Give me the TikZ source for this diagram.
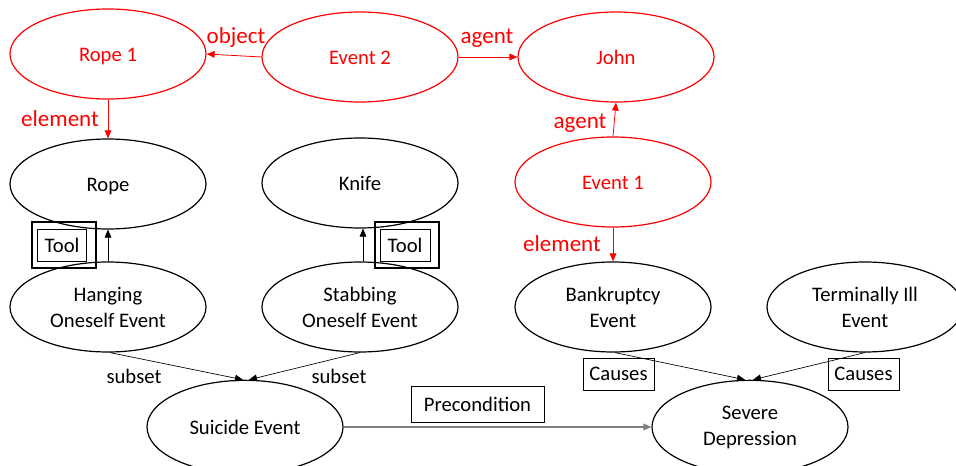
\documentclass[tikz,border=0pt]{standalone}
\usepackage{fontspec}
\setmainfont{Carlito}
\usetikzlibrary{shapes.geometric,arrows.meta}
\tikzset{
  concept/.style={ellipse, draw=black, line width=0.9pt, minimum width=147pt,
    minimum height=67.5pt, inner sep=0pt, align=center,
    font=\fontsize{15.5}{19.5}\selectfont},
  oneline/.style={text height=11.5pt, text depth=0pt},
  redconcept/.style={concept, oneline, draw=red, text=red},
  rel/.style={text=red, font=\fontsize{17.25}{20}\selectfont, anchor=base},
  plain/.style={font=\fontsize{15.5}{19.5}\selectfont, anchor=base},
  redarrow/.style={draw=red, line width=0.6pt, -{Triangle[length=6pt,width=5pt]}},
  blackarrow/.style={draw=black, line width=0.5pt, -{Triangle[length=6pt,width=5pt]}},
  grayarrow/.style={draw=gray, line width=1pt, -{Triangle[length=6pt,width=5pt]}},
  tagbox/.style={draw=black, line width=0.6pt, inner sep=0pt,
    font=\fontsize{15.5}{19.5}\selectfont},
  framebox/.style={draw=black, line width=0.9pt, inner sep=0pt}
}
\begin{document}
\begin{tikzpicture}[x=0.75pt, y=-0.75pt]
\useasboundingbox (0,0) rectangle (956,466);

% red event frame
\node[redconcept] (rope1) at (108,54) {Rope 1};
\node[redconcept] (ev2)   at (360,57) {Event 2};
\node[redconcept] (john)  at (616,57) {John};
\node[redconcept] (ev1)   at (613,182) {Event 1};

% concept layer
\node[concept, oneline] (rope)  at (108,184) {Rope};
\node[concept, oneline] (knife) at (360,183) {Knife};
\node[concept] (hang)  at (108,307) {Hanging\\Oneself Event};
\node[concept] (stab)  at (360,307) {Stabbing\\Oneself Event};
\node[concept] (bank)  at (613,307) {Bankruptcy\\Event};
\node[concept] (term)  at (865,307) {Terminally Ill\\Event};
\node[concept, oneline, minimum height=70pt] (sui) at (245,427) {Suicide Event};
\node[concept, minimum height=70pt] (dep) at (750,427) {Severe\\Depression};

% red relations
\draw[redarrow] (ev2.west) -- (rope1.east);
\draw[redarrow] (ev2.east) -- (john.west);
\draw[redarrow] (rope1.south) -- (rope.north);
\draw[redarrow] (ev1.north) -- (john.south);
\draw[redarrow] (ev1.south) -- (bank.north);
\node[rel] (lobj)  at (236,44)  {object};
\node[rel] (lag1)  at (487,44)  {agent};
\node[rel] (lel1)  at (60,127)  {element};
\node[rel] (lag2)  at (580,129) {agent};
\node[rel] (lel2)  at (562,252) {element};

% tool links
\draw[blackarrow] (hang.north) -- (rope.south);
\draw[blackarrow] ([xshift=2.25pt]stab.north) -- ([xshift=2.25pt]knife.south);
\node[framebox, minimum width=48pt, minimum height=34.5pt] (toolA) at (64,245) {};
\node[tagbox, minimum width=36.75pt, minimum height=24pt] (toolAin) at (62,245) {Tool};
\node[framebox, minimum width=48pt, minimum height=34.5pt] (toolB) at (407,245) {};
\node[tagbox, minimum width=37.5pt, minimum height=24pt] (toolBin) at (405,245) {Tool};

% subset links
\draw[blackarrow] ([xshift=1.5pt]hang.south) -- ([xshift=-1.5pt]sui.north);
\draw[blackarrow] (stab.south) -- ([xshift=3pt]sui.north);
\node[plain] (lsub1) at (134,383) {subset};
\node[plain] (lsub2) at (339,383) {subset};

% causes links
\draw[blackarrow] ([xshift=1.5pt]bank.south) -- ([xshift=-3.75pt]dep.north);
\draw[blackarrow] (term.south) -- ([xshift=2.25pt]dep.north);
\node[tagbox, minimum width=53.25pt, minimum height=24pt] (cz1) at (618.5,374) {Causes};
\node[tagbox, minimum width=53.25pt, minimum height=24pt] (cz2) at (863.5,374) {Causes};

% precondition
\draw[grayarrow] (sui.east) -- (dep.west);
\node[tagbox, minimum width=99.75pt, minimum height=27pt] (pre) at (477.5,404) {Precondition};
\end{tikzpicture}
\end{document}
